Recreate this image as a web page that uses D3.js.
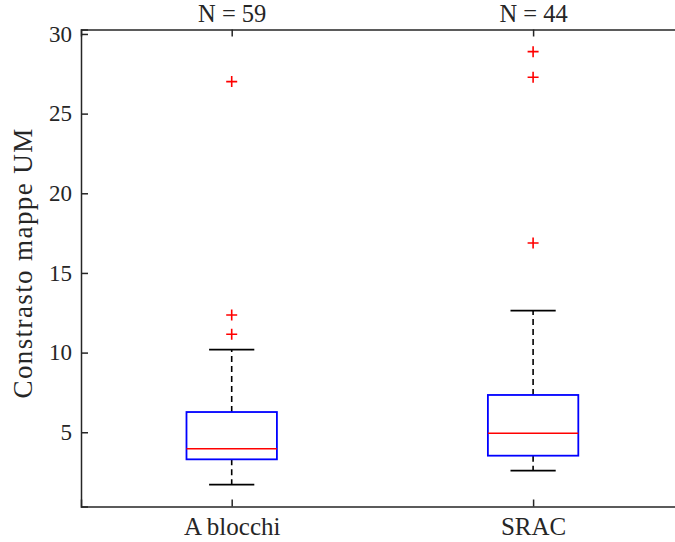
<!DOCTYPE html>
<html>
<head>
<meta charset="utf-8">
<script src="https://cdn.jsdelivr.net/npm/d3@7"></script>
<style>
  body { margin: 0; background: #fff; }
  svg text { font-family: "Liberation Serif", "DejaVu Serif", serif; fill: #262626; }
</style>
</head>
<body>
<div id="chart"></div>
<script>
const width = 675
const height = 542

// data
const groups = ["A blocchi", "SRAC"]
const counts = [59, 44]
const lowerWhisker = [1.71, 2.59]
const q1 = [3.30, 3.53]
const median = [3.97, 4.94]
const q3 = [6.27, 7.34]
const upperWhisker = [10.19, 12.63]
const outliers = [[11.15, 12.36, 27.01], [16.88, 27.28, 28.89]]
const yTicks = [5, 10, 15, 20, 25, 30]

const boxes = groups.map((g, i) => ({
    name: g, pos: i + 1, n: counts[i],
    lo: lowerWhisker[i], q1: q1[i], med: median[i], q3: q3[i], hi: upperWhisker[i],
    out: outliers[i]
}))

const plot = {left: 81, right: 683.8, top: 29.5, bottom: 506.5}

const svg = d3.select("div#chart").append("svg").attr("width", width).attr("height", height)

// the right edge of the axes falls just outside the picture
const x = d3.scaleLinear().domain([0.5, 2.5]).range([plot.left, plot.right])
const y = d3.scaleLinear().domain([0.34, 30.28]).range([plot.bottom, plot.top])

const boxHalf = 0.15
const capHalf = 0.075

const g = svg.append("g")

// whiskers
boxes.forEach(d => {
    [[d.q3, d.hi], [d.q1, d.lo]].forEach(([a, b]) => {
        g.append("line")
            .attr("x1", x(d.pos)).attr("x2", x(d.pos))
            .attr("y1", y(a)).attr("y2", y(b))
            .attr("stroke", "#000").attr("stroke-width", 1.6)
            .attr("stroke-dasharray", "6,4")
    })
    ;[d.lo, d.hi].forEach(v => {
        g.append("line")
            .attr("x1", x(d.pos - capHalf)).attr("x2", x(d.pos + capHalf))
            .attr("y1", y(v)).attr("y2", y(v))
            .attr("stroke", "#000").attr("stroke-width", 1.8)
    })
})

g.selectAll("rect.box").data(boxes).enter().append("rect")
    .attr("class", "box")
    .attr("x", d => x(d.pos - boxHalf))
    .attr("width", d => x(d.pos + boxHalf) - x(d.pos - boxHalf))
    .attr("y", d => y(d.q3))
    .attr("height", d => y(d.q1) - y(d.q3))
    .attr("fill", "#fff")
    .attr("stroke", "#0000ff").attr("stroke-width", 1.8)

g.selectAll("line.med").data(boxes).enter().append("line")
    .attr("class", "med")
    .attr("x1", d => x(d.pos - boxHalf)).attr("x2", d => x(d.pos + boxHalf))
    .attr("y1", d => y(d.med)).attr("y2", d => y(d.med))
    .attr("stroke", "#ff0000").attr("stroke-width", 1.5)

// outliers as red plus signs
const outPts = boxes.flatMap(d => d.out.map(v => ({pos: d.pos, v: v})))
g.selectAll("path.out").data(outPts).enter().append("path")
    .attr("class", "out")
    .attr("d", d => {
        const cx = x(d.pos), cy = y(d.v), r = 5.5
        return `M${cx - r},${cy}H${cx + r}M${cx},${cy - r}V${cy + r}`
    })
    .attr("stroke", "#ff0000").attr("stroke-width", 1.6).attr("fill", "none")

// axes
const axisColor = "#262626"
const yAxis = d3.axisLeft(y).tickValues(yTicks).tickSize(-7).tickPadding(9)
const yAxisGroup = svg.append("g").attr("transform", `translate(${plot.left},0)`).call(yAxis)

const xAxis = d3.axisBottom(x).tickValues([1, 2]).tickSize(-7).tickFormat((d, i) => groups[i]).tickPadding(11)
const xAxisGroup = svg.append("g").attr("transform", `translate(0,${plot.bottom})`).call(xAxis)

const topAxis = d3.axisTop(x).tickValues([1, 2]).tickSize(-7).tickFormat((d, i) => "N = " + counts[i]).tickPadding(7.5)
const topAxisGroup = svg.append("g").attr("transform", `translate(0,${plot.top})`).call(topAxis)

;[yAxisGroup, xAxisGroup, topAxisGroup].forEach(ax => {
    ax.select(".domain").attr("stroke", axisColor).attr("stroke-width", 1.5)
    ax.selectAll(".tick line").attr("stroke", axisColor).attr("stroke-width", 1.5)
    ax.selectAll(".tick text").attr("fill", axisColor).attr("font-family", "Liberation Serif")
})
yAxisGroup.selectAll(".tick text").attr("font-size", 23)
xAxisGroup.selectAll(".tick text").attr("font-size", 25)
topAxisGroup.selectAll(".tick text").attr("font-size", 24.5)

svg.append("text")
    .attr("transform", `translate(32, ${263}) rotate(-90)`)
    .attr("text-anchor", "middle")
    .attr("font-size", 27)
    .attr("letter-spacing", 1.4)
    .text("Constrasto mappe UM")
</script>
</body>
</html>
